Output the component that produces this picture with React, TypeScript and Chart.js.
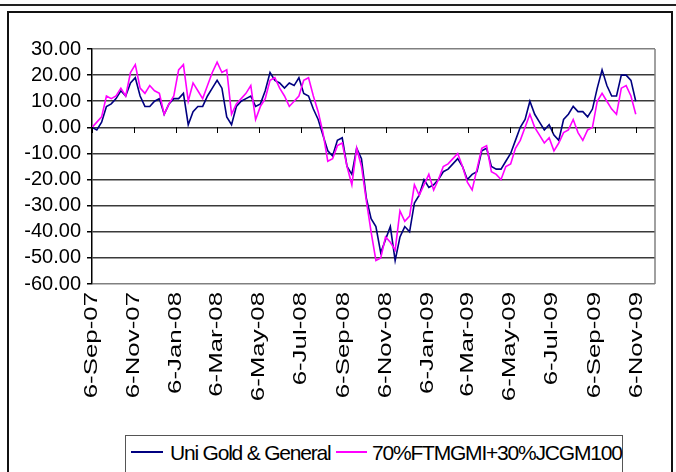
import React, { useEffect, useRef } from "react";
import { Chart, registerables } from "chart.js";

Chart.register(...registerables);

// Weekly samples starting 6-Sep-07
const START_LABEL = "6-Sep-07";
const STEP_DAYS = 7;
const AXIS_END_LABEL = "3-Dec-09";

const TICK_LABELS = [
  "6-Sep-07", "6-Nov-07", "6-Jan-08", "6-Mar-08", "6-May-08", "6-Jul-08", "6-Sep-08",
  "6-Nov-08", "6-Jan-09", "6-Mar-09", "6-May-09", "6-Jul-09", "6-Sep-09", "6-Nov-09",
];

const Y_TICKS_MIN = -60;
const Y_TICKS_MAX = 30;
const Y_STEP = 10;

const SERIES_NAMES = ["Uni Gold & General", "70%FTMGMI+30%JCGM100"];

const UNI_GOLD = [
  0, -1, 2, 8, 9, 11, 14, 12, 17, 19,
  12, 8, 8, 10, 11, 5, 9, 11, 11, 13,
  1, 6, 8, 8, 12, 15, 18, 15, 4, 1,
  8, 10, 11, 12, 8, 9, 14, 21, 18, 17,
  15, 17, 16, 19, 13, 12, 7, 3, -3, -9,
  -11, -5, -4,
  -15, -18, -8, -12, -27, -35, -38, -48, -43, -38,
  -51, -42, -38, -40, -29, -26, -20, -23, -22, -20,
  -17, -16, -14, -12, -15, -20, -18, -17, -9, -8,
  -15, -16, -16, -13, -10, -5, 0, 3, 10, 5,
  2, -1, 1, -3, -5, 3, 5, 8, 6, 6,
  4, 7, 15, 22, 16, 12, 12, 20, 20, 18,
  10,
];

const BENCHMARK = [
  0, 2, 4, 12, 11, 12, 15, 12, 21, 24,
  15, 13, 16, 14, 13, 5, 9, 12, 22, 24,
  10, 17, 14, 11, 16, 21, 25, 21, 22, 5,
  9, 11, 13, 16, 3, 8, 11, 18, 19, 15,
  12, 8, 10, 12, 18, 19, 12, 6, -2, -13,
  -12, -7, -6,
  -15, -22, -8, -15, -28, -40, -51, -50, -42, -44,
  -47, -32, -36, -34, -22, -26, -22, -18, -24, -20,
  -15, -14, -12, -10, -15, -21, -24, -16, -8, -7,
  -17, -18, -20, -15, -14, -8, -5, 0, 5, 0,
  -3, -6, -4, -9, -6, -2, -1, 3, -2, -5,
  -1, 0, 10, 13, 10, 7, 5, 15, 16, 12,
  5,
];

const MONTHS = ["Jan", "Feb", "Mar", "Apr", "May", "Jun", "Jul", "Aug", "Sep", "Oct", "Nov", "Dec"];
function labelToUTC(label: string): number {
  const [d, m, y] = label.split("-");
  return Date.UTC(2000 + Number(y), MONTHS.indexOf(m), Number(d));
}
const START_UTC = labelToUTC(START_LABEL);
function dayOffset(label: string): number {
  return Math.round((labelToUTC(label) - START_UTC) / 86400000);
}

const FONT = '"Liberation Sans", Arial, sans-serif';

const excelPlugin = {
  id: "excelAxes",
  afterDraw(chart: any) {
    const { ctx, chartArea, scales } = chart;
    const xs = scales.x;
    const ys = scales.y;
    ctx.save();
    // right border of plot area
    ctx.strokeStyle = "#808080";
    ctx.lineWidth = 1.5;
    ctx.beginPath();
    ctx.moveTo(chartArea.right, chartArea.top);
    ctx.lineTo(chartArea.right, chartArea.bottom);
    ctx.stroke();
    // tick marks on zero axis
    const y0 = Math.round(ys.getPixelForValue(0));
    ctx.strokeStyle = "#000";
    ctx.lineWidth = 1;
    TICK_LABELS.forEach((lab) => {
      const px = Math.round(xs.getPixelForValue(dayOffset(lab))) + 0.5;
      ctx.beginPath();
      ctx.moveTo(px, y0);
      ctx.lineTo(px, y0 + 6);
      ctx.stroke();
    });
    // rotated, stretched tick labels
    ctx.fillStyle = "#000";
    ctx.font = `19px ${FONT}`;
    ctx.textAlign = "right";
    ctx.textBaseline = "middle";
    TICK_LABELS.forEach((lab) => {
      const px = xs.getPixelForValue(dayOffset(lab));
      ctx.save();
      ctx.translate(px, chartArea.bottom + 8);
      ctx.rotate(-Math.PI / 2);
      ctx.scale(1.36, 1);
      ctx.fillText(lab, 0, 0);
      ctx.restore();
    });
    ctx.restore();
  },
};

export default function App() {
  const ref = useRef<HTMLCanvasElement>(null);
  useEffect(() => {
    if (!ref.current) return;
    const chart = new Chart(ref.current, {
      type: "line",
      data: {
        datasets: [
          {
            label: SERIES_NAMES[0],
            data: UNI_GOLD.map((v, i) => ({ x: i * STEP_DAYS, y: v })),
            borderColor: "#000080",
            borderWidth: 1.6,
            pointRadius: 0,
            tension: 0,
            order: 1,
          },
          {
            label: SERIES_NAMES[1],
            data: BENCHMARK.map((v, i) => ({ x: i * STEP_DAYS, y: v })),
            borderColor: "#FF00FF",
            borderWidth: 1.6,
            pointRadius: 0,
            tension: 0,
            order: 0,
          },
        ],
      },
      options: {
        animation: false,
        responsive: false,
        devicePixelRatio: 1,
        layout: { padding: { top: 49, right: 21, left: 0, bottom: 0 } },
        plugins: { legend: { display: false }, tooltip: { enabled: false }, title: { display: false } },
        scales: {
          x: {
            type: "linear",
            min: 0,
            max: dayOffset(AXIS_END_LABEL),
            ticks: { display: false },
            grid: { display: false },
            border: { display: false },
            afterFit: (s: any) => {
              s.height = 146;
            },
          },
          y: {
            min: Y_TICKS_MIN,
            max: Y_TICKS_MAX,
            ticks: {
              stepSize: Y_STEP,
              autoSkip: false,
              callback: (v: any) => Number(v).toFixed(2),
              font: { family: FONT, size: 20 },
              color: "#000",
              padding: 6,
            },
            grid: {
              color: (c: any) =>
                c.tick && (c.tick.value === Y_TICKS_MAX || c.tick.value === Y_TICKS_MIN) ? "#808080" : "#3a3a3a",
              tickColor: "#000",
              lineWidth: 1.5,
              tickLength: 5,
            },
            border: { display: true, color: "#000", width: 1.5 },
            afterFit: (s: any) => {
              s.width = 92;
            },
          },
        },
      },
      plugins: [excelPlugin],
    });
    return () => chart.destroy();
  }, []);

  const textStyle: React.CSSProperties = {
    position: "absolute",
    top: 442,
    fontFamily: FONT,
    fontSize: 21,
    lineHeight: "21px",
    letterSpacing: "-1.2px",
    whiteSpace: "nowrap",
    color: "#000",
  };

  return (
    <div style={{ position: "absolute", left: 0, top: 0, width: 676, height: 472, overflow: "hidden", background: "#fff" }}>
      <div style={{ position: "absolute", left: 0, top: 4, width: 676, height: 0, borderTop: "2px solid #222" }} />
      <div
        style={{
          position: "absolute",
          left: 7,
          top: 11,
          width: 666,
          height: 520,
          border: "2px solid #111",
          boxSizing: "border-box",
        }}
      />
      <div
        style={{
          position: "absolute",
          left: 125,
          top: 435,
          width: 498,
          height: 60,
          border: "1px solid #555",
          boxSizing: "border-box",
        }}
      />
      <div style={{ position: "absolute", left: 131, top: 451, width: 32, height: 2, background: "#000080" }} />
      <span style={{ ...textStyle, left: 170 }}>{SERIES_NAMES[0]}</span>
      <div style={{ position: "absolute", left: 336, top: 451, width: 31, height: 2, background: "#FF00FF" }} />
      <span style={{ ...textStyle, left: 372 }}>{SERIES_NAMES[1]}</span>
      <canvas ref={ref} width={676} height={430} style={{ position: "absolute", left: 0, top: 0, width: 676, height: 430 }} />
    </div>
  );
}
